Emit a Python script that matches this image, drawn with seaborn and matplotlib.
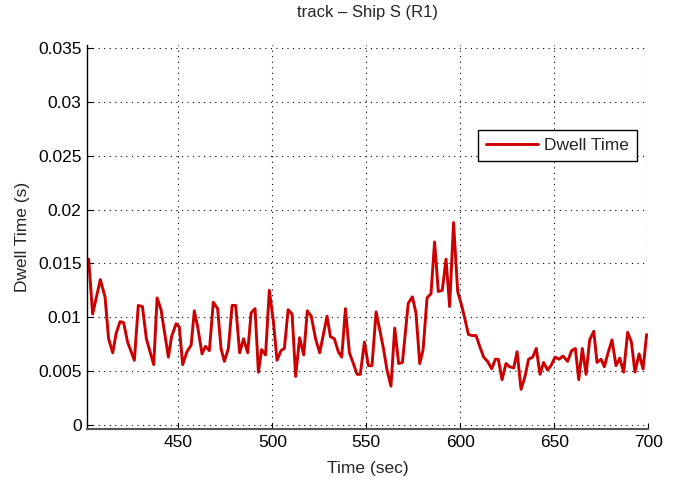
import matplotlib
matplotlib.use("Agg")
import matplotlib.pyplot as plt
import seaborn as sns
import pandas as pd

time_sec = [402.3, 404.4, 408.5, 411.0, 412.9, 415.1, 416.9, 419.0, 420.9, 423.0,
            426.6, 428.7, 430.9, 433.0, 436.9, 438.7, 440.8, 444.7, 446.4, 448.8,
            450.5, 452.3, 454.6, 456.8, 458.5, 460.3, 462.6, 464.4, 466.5, 468.6,
            470.9, 472.7, 474.5, 476.6, 478.6, 480.5, 482.6, 484.7, 486.9, 488.7,
            490.8, 492.6, 494.3, 496.4, 498.4, 500.5, 502.5, 504.6, 506.4, 508.4,
            510.5, 512.4, 514.5, 516.7, 518.6, 520.7, 523.0, 525.2, 529.1, 530.9,
            533.0, 535.1, 536.9, 538.9, 541.0, 543.3, 545.1, 546.8, 549.0, 551.1,
            553.0, 555.2, 557.3, 559.2, 561.0, 563.1, 565.1, 567.2, 569.2, 572.3,
            574.5, 576.4, 578.4, 580.2, 582.3, 584.4, 586.3, 588.3, 590.4, 592.4,
            594.3, 596.4, 598.6, 600.7, 602.1, 604.3, 606.4, 608.4, 610.3, 612.4,
            614.5, 616.7, 618.6, 620.2, 622.2, 624.3, 626.2, 628.4, 630.2, 632.3,
            634.4, 636.3, 638.5, 640.4, 642.4, 644.3, 646.4, 648.2, 650.4, 652.5,
            654.6, 657.1, 659.2, 661.2, 663.0, 664.9, 666.9, 668.8, 671.0, 672.7,
            674.9, 676.6, 678.6, 680.7, 682.8, 684.8, 686.9, 689.0, 691.0, 692.9,
            695.1, 697.2, 699.1]

dwell_time = [0.0154, 0.0103, 0.0135, 0.0119, 0.0080, 0.0067, 0.0085, 0.0096, 0.0095, 0.0077,
              0.0060, 0.0111, 0.0110, 0.0080, 0.0056, 0.0118, 0.0107, 0.0063, 0.0082, 0.0094,
              0.0091, 0.0056, 0.0068, 0.0074, 0.0106, 0.0091, 0.0066, 0.0073, 0.0069, 0.0114,
              0.0108, 0.0071, 0.0059, 0.0071, 0.0111, 0.0111, 0.0067, 0.0080, 0.0067, 0.0104,
              0.0108, 0.0049, 0.0070, 0.0065, 0.0125, 0.0097, 0.0060, 0.0069, 0.0071, 0.0107,
              0.0103, 0.0045, 0.0081, 0.0065, 0.0106, 0.0101, 0.0080, 0.0067, 0.0101, 0.0082,
              0.0080, 0.0068, 0.0063, 0.0108, 0.0067, 0.0056, 0.0047, 0.0047, 0.0077, 0.0055,
              0.0055, 0.0105, 0.0087, 0.0070, 0.0051, 0.0036, 0.0090, 0.0057, 0.0058, 0.0113,
              0.0119, 0.0104, 0.0057, 0.0070, 0.0118, 0.0122, 0.0170, 0.0124, 0.0125, 0.0154,
              0.0110, 0.0188, 0.0124, 0.0111, 0.0101, 0.0084, 0.0083, 0.0083, 0.0073, 0.0063,
              0.0059, 0.0052, 0.0061, 0.0061, 0.0042, 0.0057, 0.0054, 0.0053, 0.0068, 0.0033,
              0.0045, 0.0061, 0.0063, 0.0071, 0.0047, 0.0058, 0.0051, 0.0055, 0.0063, 0.0061,
              0.0064, 0.0059, 0.0069, 0.0071, 0.0042, 0.0071, 0.0047, 0.0079, 0.0087, 0.0058,
              0.0061, 0.0054, 0.0067, 0.0079, 0.0055, 0.0062, 0.0049, 0.0086, 0.0077, 0.0049,
              0.0066, 0.0052, 0.0084]

x_ticks = [450, 500, 550, 600, 650, 700]
y_ticks = [0, 0.005, 0.01, 0.015, 0.02, 0.025, 0.03, 0.035]
y_tick_labels = ["0", "0.005", "0.01", "0.015", "0.02", "0.025", "0.03", "0.035"]

df = pd.DataFrame({"Time (sec)": time_sec, "Dwell Time (s)": dwell_time})

sns.set_theme(style="white")
plt.rcParams["font.family"] = ["Liberation Sans", "DejaVu Sans"]

fig = plt.figure(figsize=(6.81, 4.79), dpi=100)
ax = fig.add_axes([0.128, 0.104, 0.824, 0.802])

sns.lineplot(data=df, x="Time (sec)", y="Dwell Time (s)", ax=ax,
             color="#cc0000", linewidth=2.1, label="Dwell Time", sort=False)

ax.set_xlim(401.5, 700)
ax.set_ylim(-0.0004, 0.0353)
ax.set_xticks(x_ticks)
ax.set_yticks(y_ticks)
ax.set_yticklabels(y_tick_labels)
ax.tick_params(axis="both", direction="in", length=4, labelsize=12.5,
               colors="black", left=True, bottom=True, width=0.8, pad=4)
ax.grid(True, linestyle=(0, (1, 4)), color="black", linewidth=0.8)

for side in ["top", "right"]:
    ax.spines[side].set_visible(False)
ax.spines["left"].set_color("black")
ax.spines["bottom"].set_color("#555555")
ax.spines["left"].set_linewidth(1.0)
ax.spines["bottom"].set_linewidth(1.5)

ax.set_xlabel("Time (sec)", fontsize=12.5, labelpad=8)
ax.set_ylabel("Dwell Time (s)", fontsize=12.5, labelpad=6)
ax.set_title("track \u2013 Ship S (R1)", fontsize=12, pad=20)

leg = ax.legend(loc="upper right", bbox_to_anchor=(0.979, 0.779), borderaxespad=0,
                fontsize=12.5, frameon=True, fancybox=False, framealpha=1,
                edgecolor="black", borderpad=0.45, handlelength=3.0,
                handletextpad=0.35)
leg.get_frame().set_linewidth(1.0)

fig.savefig("out.png", dpi=100)
